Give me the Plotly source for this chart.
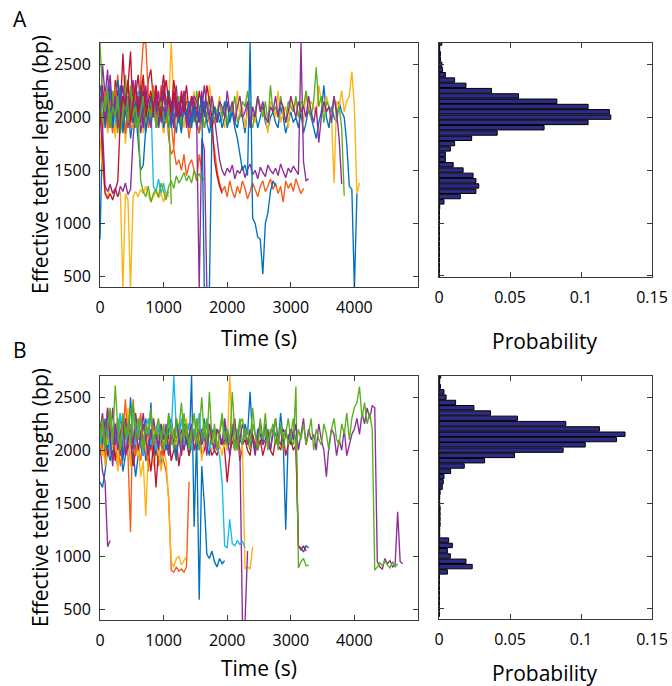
import plotly.graph_objects as go

W, H = 672, 686
DT = 40  # sampling interval of the traces (s)

# ---------------- Panel A traces: effective tether length (bp), one value every DT s from t=0 ----------------
A_BLUE_1 = [850, 1900,
            2100, 1950, 2250, 2050, 1850, 2150, 2300, 1900, 2050, 2200, 1800, 2000, 2150, 1950, 2350, 2000, 1850, 2100, 1950, 2200, 2050, 1900, 2100, 1980,
            2050, 1900, 2150, 2000, 1850, 2100, 1950, 2050, 2200, 1900, 2000, 2100, 1950, 1850, 2050, 2150, 1950, 2000, 1900, 2100, 2050, 1950, 2000, 2150, 1900,
            2000, 2100, 1950, 1900, 2050, 2000, 1850, 2100, 1950, 2000, 2050, 1900, 2000, 2100, 1950, 1880, 2000, 2050, 1950, 1900, 2100, 2000, 1850, 1950, 2050,
            1950, 2000, 1900, 2050, 1850, 1950, 2100, 2000, 1900, 1800, 1950, 2050, 2300, 2000, 1900, 2100, 2000, 1950, 2150, 2050, 2000,
            1750, 1350, 1320, 380, 1280]
A_BLUE_2 = [2300,
            2150, 1950, 2250, 2100, 1900, 2200, 2350, 2000, 2150, 1850, 2100, 2250, 1950, 2050, 1800,
            1500, 1550, 1900,
            2100, 2000, 2200, 1950, 2050, 2150, 1900, 2000, 2250, 2050, 1950, 2100, 2000, 1850, 2150, 2050, 1950, 2000,
            2100, 1900, 2050, 2000, 2150, 1950, 1850, 2000, 2100, 1950, 2050, 1900, 2000, 2150, 1950, 2050, 1900, 1800,
            1650, 1500, 1550, 1450, 2700, 1050, 1000, 870, 850, 520, 1000, 1100, 1300, 1400, 1350]
A_BLUE_3 = [2050, 2200, 1900, 2100, 2300, 1950, 2150, 2000, 2250, 1850, 2100, 2050, 2200, 1950, 2150, 2000,
            2300, 2100, 1900, 2050, 2200, 2000, 2150, 1950, 2100, 2250, 2000, 2050, 1900, 2150, 2100, 1950,
            2200, 2050, 2000, 2150, 1900, 2100, 2000, 2050, 2200, 380, 380, 380, 1900]
A_ORANGE_1 = [2200, 1900, 2100, 2300, 2000, 1850, 2150, 2400, 2050, 1950, 2200, 2100, 1900, 2250, 2000, 2150, 1950, 2350, 2050, 1900,
              2100, 2200, 1950, 2000, 2300, 1850, 2100, 2050, 1950, 1700, 2200, 2000, 1900, 2150, 2050, 1800, 2000, 2100, 1950, 1850,
              2000, 1900, 2050, 1950, 1850,
              1700, 1500, 1380,
              1300, 1350, 1250, 1400, 1300, 1240, 1350, 1280, 1400, 1330, 1230, 1300, 1380, 1320, 1250, 1350, 1400, 1300, 1350, 1420,
              1320, 1380, 1280, 1350, 1200, 1400, 1330, 1380, 1300, 1420, 1350, 1280, 1330]
A_ORANGE_2 = [2100, 2000, 2250, 1900, 2150, 2050, 2300, 1950, 2100, 2200, 1850, 2050, 2150, 1950, 2250, 2000, 2350,
              2700, 2700, 2200,
              2050, 2300, 1950, 2150, 2000, 2250, 2100,
              1800, 1650, 1700, 1550, 1600, 1500, 1650, 1450, 1550, 1600, 1500, 1400, 1650, 1500]
A_YELLOW_1 = [1700,
              1900, 2150, 1850, 2000, 2250, 1800, 2100, 1950, 2200, 1750, 2050, 2300, 1900, 2100, 2000, 2350, 1850, 2150, 1950, 2050,
              2250, 1900, 2100, 2000, 1850, 2200, 2100,
              2700,
              2150, 1950, 2100, 2050, 1900, 2200, 2000, 2100, 2250, 1950, 2050, 2150, 1900, 2000, 2300, 2100, 1950, 2050, 2200, 2000,
              1900, 2150, 2050, 2100, 1950, 2250, 2000, 2100, 1900, 2050, 2150, 2000, 1950, 2200, 2100, 2050, 2000, 1850, 2150, 2100,
              2000, 2250, 1950, 2050, 2100, 1900, 2200, 2050, 2150, 2000, 2100, 1950, 2250, 2050, 2150, 2100, 2000, 2300, 2150, 2050,
              2200, 2100, 2000,
              1380,
              2150, 2100, 2250, 2050, 2150, 2200,
              2430, 2100, 1280, 1380]
A_YELLOW_2 = [1800, 1500, 1300, 1250, 1350, 1280, 1320, 1250, 1300, 380, 1280, 1220, 380, 1250, 1300, 1250, 1320, 1280,
              1350, 1280, 1200, 1250, 1300, 1240, 1280, 1200, 1300, 1250]
A_PURPLE_1 = [2000, 2500, 2200, 2450, 1900, 2100, 2300, 1950, 2150, 2050, 2250, 1900, 2100, 2350, 2000, 2150, 1850, 2050, 2200, 1950,
              2100, 2000, 2250, 1900, 2150, 2050, 1950, 2200, 2000, 2100, 2300, 1950, 2050, 2150, 2000, 1900, 2200, 2050, 2100, 1950,
              2250, 2000, 2150, 2050, 1900, 2000,
              1800, 1600, 1500,
              1450, 1520, 1480, 1550, 1420, 1500, 1470, 1540, 1430, 1510, 1560, 1460, 1500, 1420, 1530, 1480, 1440, 1550, 1500, 1470,
              1520, 1450, 1560, 1490, 1430, 1520, 1480, 1540, 1500, 1460,
              2700, 1580, 1400, 1420]
A_PURPLE_2 = [2100, 1900, 1350,
              1300, 1370, 1280, 1330, 1250, 1350, 1300, 1380, 1270, 1320,
              1800,
              2050, 2200, 1950, 2100, 2300, 2000, 1900, 2150, 2050, 2250, 1950, 2100, 2000, 2200, 2050, 1900, 2150, 2100, 2000, 2250,
              1950, 2050, 2150, 2000,
              1950, 380, 1800, 1700, 380]
A_PURPLE_3 = [2050, 2250, 1950, 2150, 2400, 2000, 2200, 1900, 2100, 2300, 2050, 1950, 2200, 2100, 2350, 2000, 2150, 1900, 2250, 2050,
              2100, 2000, 2200, 1950, 2150, 2300, 2050, 2100, 1950, 2200, 2000, 2150, 2050, 2250, 1900, 2100, 2000, 2200, 2150, 1950,
              2050, 2300, 2100, 2000, 2200, 2050, 1950, 2150, 2100, 2000, 2250, 2050, 2150, 1950, 2100, 2200, 2000, 2050, 2150, 1900,
              2100, 2000, 2200, 2050, 2150, 2000, 1950, 2100, 2050, 2200, 2000, 2150, 2100, 1950, 2050, 2200, 2100, 2000, 2150, 2050,
              2100, 2000, 2200, 2050, 1950, 2100, 1760, 2000, 2150, 2050, 2100, 1950, 2200, 2050,
              1800, 1370]
A_GREEN_1 = [2700,
             2200, 1950, 2100, 2300, 2000, 2150, 1850, 2250, 2050, 2400, 1950, 2100, 2200, 1900, 2050, 2300, 2000, 2150, 1950, 2100,
             2250, 1900, 2050, 2150, 2000,
             2000, 2250, 2100, 1950, 2050, 2200, 1900, 2100, 2000, 2150, 2050, 1950, 2250, 2050, 2100, 1900, 2000, 2200, 2100, 1950,
             2050, 2150, 2000, 2100, 1950,
             2100, 2050, 2200, 1950, 2000, 2150, 2100, 2250, 2000, 1900, 2050, 2200, 2100, 2000, 2150, 1950, 2300, 2050, 2100, 2000,
             2200, 2050, 1950, 2150, 2100,
             2050, 2200, 2000, 2150, 2100, 2250, 2050, 2000, 2150, 2470, 2100, 2200, 1950, 2150, 2100, 2050, 2200, 2000, 2100,
             1900, 1260]
A_GREEN_2 = [2100, 1950, 2200, 2050, 1900, 2250, 2000, 2150, 1850, 2100, 2300, 1950, 2050, 2200, 1900, 2000,
             1400,
             1300, 1250, 1350, 1200, 1280, 1320, 1250, 1380, 1300, 1220, 1350, 1400, 1330, 1450, 1380, 1420, 1480, 1400, 1450, 1380,
             1500, 1430, 1470, 1400, 1430]
A_GREEN_3 = [1950, 2150, 2050, 2250, 1900, 2100, 2000, 2200, 1850, 2050, 2150, 1950, 2300, 2000, 2100, 1900, 2050, 2200,
             1950, 2100, 2000, 2250, 1900, 2050, 2150, 2000, 1950, 2100,
             1180]
A_CYAN_1 = [2150, 2250, 2050, 2300, 2100, 2200, 1950, 2250, 2150, 2050, 2300, 2100, 2200, 2000, 2150, 2250, 2050, 2200, 2100, 1950, 2150,
            1350, 1300, 1420, 1280, 1380, 1250, 1300]
A_RED_1 = [2100, 2300, 2000, 2250, 2150, 1950, 2350, 2200, 2050, 2600, 2150, 2300, 2620, 2000, 2200, 2400, 2100, 2250, 2050, 2350,
           2450, 2150, 2300, 2000, 2200, 2400, 2100, 2250, 2050, 2350, 2150, 2000, 2250, 2100, 2300, 2050, 2200, 2150, 2000, 2250,
           2100, 2050, 2300, 2150, 2000,
           1600, 1450, 1350, 1280]
A_RED_2 = [2050, 1700, 1280, 1230, 1280, 1220, 1300, 1400,
           2000, 2200, 2100, 2350, 1950, 2150, 2300, 2050, 2200, 2400, 2000, 2150, 2250, 2050, 2300, 2100, 2000, 2200, 2350, 2150,
           2050, 2250, 2100, 2000, 2200, 2050, 2150]

# ---------------- Panel B traces ----------------
B_BLUE_1 = [1700, 1650, 1800, 2000, 1900, 2100, 1950, 1850, 2050, 1800, 1950, 2100, 1900, 2000, 1750, 1950, 2050, 2150, 1900, 2000,
            2450, 1950, 2100, 2000, 1850, 2050,
            2100, 1950, 2200, 2050, 1900, 2150, 2000, 2250, 2100, 1950, 2050, 2200, 2000, 2150, 2100, 2300, 2050, 1950, 2200, 2100,
            2000, 2150, 2050, 2250, 2000, 2100,
            2150, 2000, 2200, 2100, 2050, 2250, 2150, 2550, 2100, 2000, 2200, 2150, 2050, 2250, 2100, 2000, 2200, 2150, 2050, 2350, 2100,
            1250, 2150, 2050, 2200, 2100,
            1100, 1080, 1040, 1100, 1080]
B_BLUE_2 = [2200, 2050, 2300, 2000, 2150, 1950, 2250, 2100, 2350, 1900, 2200, 2050, 2500, 2100, 2000, 2250, 2150, 1950, 2300, 2050,
            2200, 2100, 1950, 2250, 2050, 2150, 2000, 2200, 2300, 2100, 1950, 2150, 2050, 2250, 2100, 2000,
            2700, 1280, 2150, 590, 1850, 1500, 1020,
            980, 1050, 950, 900, 980, 930, 960]
B_CYAN = [2050, 2200, 2100, 2300, 1950, 2150, 2250, 2050, 2350, 2100, 2000, 2200, 2150, 2400, 2050, 2250, 2100, 1950, 2200, 2300,
          2050, 2150, 2000, 2250, 2100, 2200, 2050, 2350, 2150,
          2700,
          2200, 2100, 2300, 2050, 2150, 2250, 2000, 2200, 2100, 2350, 2050, 2150, 2250, 2000, 2100, 2200, 2050, 1950,
          1700, 1100, 1080, 1350,
          1120, 1100, 1150, 1110, 1140, 1080]
B_YELLOW_1 = [1950, 2100, 1850, 2000, 2200, 1900, 2050, 1800, 2150, 1950, 2000, 2400, 1850, 2100, 1950, 2050, 1750, 1900, 1380,
              2000, 2100, 1850, 1950, 2050, 1800, 2000, 1900,
              1500, 950, 900, 980, 1000, 920, 960, 1000]
B_YELLOW_2 = [2100, 1950, 2200, 2050, 2300, 2000, 2150, 1900, 2250, 2100, 2000, 2200, 2050, 2350, 2150, 1950, 2100, 2250, 2000, 2150,
              2050, 2300, 2100, 1950, 2200, 2050, 2150, 2000, 2250, 2100, 2050, 2200, 1950, 2150, 2300, 2050, 2100, 2000, 2200, 2150,
              1900, 2100, 2250, 2050, 2000, 2150, 2200, 2050, 1950, 2100, 2000,
              2700, 2150, 2000, 2100, 1950, 2050,
              880, 900, 880, 1090]
B_ORANGE_1 = [2000, 2150, 1900, 2250, 2050, 1950, 2200, 2100, 1850, 2000, 2300, 1950, 1230, 2480, 2100, 2000, 1900, 2150, 2050, 1800,
              2200, 1950, 2100, 1850, 2000, 1900, 1800,
              1550, 870, 850, 900, 860, 880, 850, 900, 1700]
B_ORANGE_2 = [2050, 2250, 2150, 2400, 1950, 2200, 2100, 2300, 2000, 2150, 2480, 2050, 2250, 2100, 1950, 2200, 2350, 2050, 2150, 1900,
              2100, 2250, 2000, 2150, 2050, 1950]
B_PURPLE_1 = [2200, 2350, 2050, 2400, 2100, 1850, 2250, 2000, 2150, 2300, 1950, 2100, 2200, 2050, 2250, 2000, 2150, 2350, 2100, 1950,
              2200, 2050, 2150, 2000, 2250,
              2100, 2200, 2000, 2150, 2050, 2300, 2100, 1950, 2200, 2050, 2150, 2250, 2000, 2100, 2200, 2050, 2150, 1950, 2250, 2100,
              2000, 2200, 2150, 2050, 2100,
              2200, 2050, 2150, 2300, 2000, 2100, 2250, 2150, 2050, 2200, 2100, 1950, 2150, 2250, 2050, 2100, 2200, 2000, 2150, 2300,
              2100, 2050, 2200, 2150, 2100,
              2200, 2100, 2250, 2000, 2150, 2300, 2050, 2200, 2100, 2150, 2000, 2250, 2100, 2000, 1750, 2050, 2200, 2150, 1950, 2100,
              2000, 2200, 1950, 2050, 2150,
              2200, 2300, 2150, 2350, 2250, 2400, 2300, 2420,
              2400, 950, 900, 880, 980, 930, 960, 900, 920, 1420, 950, 930]
B_PURPLE_2 = [2050, 1800, 1700, 1090, 1150]
B_PURPLE_3 = [2150, 2300, 2000, 2200, 2100, 2400, 2050, 2250, 1950, 2150, 2300, 2100, 2200, 2000, 2350, 2150, 2050, 2250, 2100, 2200,
              2000, 2300, 2150, 2050, 2200, 2100, 2250, 1950, 2150, 2050, 2300, 2100, 2200, 2000, 2150, 2250, 2050, 2100, 2300, 2000,
              2200, 2150, 2050, 2250, 2100, 2000, 2200, 2150, 2050, 2300, 2100, 1950, 2200, 2050, 2150, 2000,
              380, 380, 1050]
B_GREEN_1 = [2150, 2300, 2050, 2250, 2400, 2100, 2610, 2200, 2000, 2350, 2150, 2250, 2050, 2450, 2200, 2100, 2300, 2000, 2250, 2150,
             2400, 2050, 2200, 2300, 2100,
             2250, 2050, 2350, 2150, 2000, 2300, 2200, 2450, 2100, 2250, 2000, 2150, 2350, 2050, 2200, 2500, 2100, 2300, 2150, 2050,
             2250, 2000, 2200, 2350, 2100,
             2200, 2050, 2550, 2150, 2000, 2250, 2300, 2100, 2200, 2050, 2400, 2150, 2000, 2250, 2100, 2350, 2050, 2200, 2150, 2300,
             2000, 2250, 2100, 2200, 2050,
             2150, 2300, 2000, 2200, 2100, 2250, 2050, 2150, 2300, 2000, 2200, 2100, 2050, 2250, 2150, 2000, 2200, 2300, 2100, 2050,
             2250, 2150, 2350, 2100, 2300,
             2400, 2450, 2600, 2300, 2450, 2250, 2350,
             2200, 870, 900, 940, 910, 960, 920, 890, 950, 900, 930]
B_GREEN_2 = [2100, 2250, 2000, 2200, 2350, 2050, 2150, 2300, 2000, 2250, 2100, 2200, 2400, 2050, 2150, 2300, 2100, 2000, 2250, 2150,
             2350, 2050, 2200, 2100, 2250,
             2000, 2150, 2300, 2050, 2200, 2100, 2250, 2000, 2350, 2150, 2050, 2200, 2100, 2300, 2000, 2150, 2250, 2050, 2550, 2100,
             2200, 2000, 2150, 2300, 2050,
             2200, 2100, 2250, 2000, 2150, 2300, 2050, 2200, 2100, 2000, 2250, 2150, 2050, 2300, 2100, 2200, 2000, 2150, 2250, 2050,
             2100, 2200, 2000, 2150, 2300, 2100, 2050,
             2600, 890, 950, 980, 910, 920]
B_RED = [2100, 2000, 2200, 1950, 2050, 2150, 1900, 2100, 2000, 2250, 1950, 2050, 2100, 1850, 2000, 2150, 2050, 1950, 2100, 2000,
         1800, 2050, 1650, 2000, 2100,
         1950, 2050, 2150, 1900, 2000, 2100, 1850, 2050, 2000, 2150, 1950, 2100, 2000, 2050, 2200, 1950, 2000, 2100, 2050, 1950,
         2000, 1950, 2050, 2100, 2000,
         1700, 1950, 2100, 2000, 2150, 1900, 2050, 2100, 2000, 1950, 2150, 2050, 2000, 2100, 1950, 2050, 2150, 2000, 1950, 2100,
         2050, 2000, 2150, 1950, 2050, 2100, 2000,
         2050, 1100, 1060, 1100, 1050]

# ---------------- Histograms (probability per 50-bp bin) ----------------
HIST_A_BINS = [2700, 2650, 2600, 2550, 2500, 2450, 2400, 2350, 2300, 2250, 2200, 2150, 2100, 2050, 2000, 1950, 1900, 1850,
               1800, 1750, 1700, 1650, 1600, 1550, 1500, 1450, 1400, 1350, 1300, 1250, 1200, 1150, 1100, 1050, 1000, 950,
               900, 850, 800, 750, 700, 650, 600, 550, 500]
HIST_A_PROB = [0.002, 0.0005, 0.001, 0.001, 0.002, 0.0025, 0.0045, 0.011, 0.019, 0.037, 0.056, 0.083, 0.105, 0.120, 0.121,
               0.105, 0.074, 0.041, 0.023, 0.011, 0.008, 0.0045, 0.0045, 0.010, 0.017, 0.024, 0.026, 0.028, 0.026, 0.015,
               0.0035, 0.0005, 0.0003, 0.0003, 0.0003, 0.0003, 0.0003, 0.0003, 0.0003, 0.0003, 0.0003, 0.0003, 0.0003,
               0.0003, 0.0003]
HIST_B_BINS = [2700, 2650, 2600, 2550, 2500, 2450, 2400, 2350, 2300, 2250, 2200, 2150, 2100, 2050, 2000, 1950, 1900, 1850,
               1800, 1750, 1700, 1650, 1600, 1550, 1500, 1450, 1400, 1350, 1300, 1250, 1200, 1150, 1100, 1050, 1000, 950,
               900, 850, 800, 750, 700, 650, 600, 550, 500, 450]
HIST_B_PROB = [0.0012, 0.0005, 0.001, 0.0035, 0.005, 0.0117, 0.0246, 0.0363, 0.0553, 0.0893, 0.113, 0.131, 0.125, 0.103,
               0.0874, 0.0532, 0.0321, 0.0178, 0.0082, 0.0035, 0.003, 0.0023, 0.0008, 0.0005, 0.0005, 0.0008, 0.0008, 0.0008,
               0.0008, 0.0005, 0.0005, 0.0068, 0.0094, 0.0059, 0.008, 0.019, 0.0234, 0.0059, 0.0003, 0.0003, 0.0003, 0.0003,
               0.0003, 0.0003, 0.0003, 0.0003]

TIME_TICKS = [0, 1000, 2000, 3000, 4000]
LEN_TICKS = [500, 1000, 1500, 2000, 2500]
PROB_TICKS = [0, 0.05, 0.1, 0.15]
PROB_LABELS = ['0', '0.05', '0.1', '0.15']

# ---------------- styling ----------------
BLUE = '#0070C0'; ORANGE = '#FA5A14'; YELLOW = '#FDB20F'; PURPLE = '#8E2C98'
GREEN = '#5BAE1E'; CYAN = '#18B8F0'; RED = '#C4122F'
HIST_COLOR = '#2E2B86'
FONT = 'Open Sans'
LW = 1.35

A_SET = [(A_BLUE_1, BLUE), (A_ORANGE_1, ORANGE), (A_YELLOW_1, YELLOW), (A_PURPLE_1, PURPLE), (A_GREEN_1, GREEN),
         (A_CYAN_1, CYAN), (A_RED_1, RED), (A_BLUE_2, BLUE), (A_ORANGE_2, ORANGE), (A_YELLOW_2, YELLOW),
         (A_PURPLE_2, PURPLE), (A_GREEN_2, GREEN), (A_BLUE_3, BLUE), (A_PURPLE_3, PURPLE), (A_GREEN_3, GREEN),
         (A_RED_2, RED)]
B_SET = [(B_BLUE_1, BLUE), (B_ORANGE_1, ORANGE), (B_YELLOW_1, YELLOW), (B_PURPLE_2, PURPLE), (B_RED, RED),
         (B_BLUE_2, BLUE), (B_ORANGE_2, ORANGE), (B_YELLOW_2, YELLOW), (B_PURPLE_3, PURPLE), (B_CYAN, CYAN),
         (B_GREEN_2, GREEN), (B_PURPLE_1, PURPLE), (B_GREEN_1, GREEN)]


def px(x):
    return x / W


def py(y):
    return 1 - y / H


fig = go.Figure()
for vals, col in A_SET:
    fig.add_trace(go.Scatter(x=[i * DT for i in range(len(vals))], y=vals, mode='lines',
                             line=dict(color=col, width=LW), xaxis='x', yaxis='y', hoverinfo='skip'))
for vals, col in B_SET:
    fig.add_trace(go.Scatter(x=[i * DT for i in range(len(vals))], y=vals, mode='lines',
                             line=dict(color=col, width=LW), xaxis='x3', yaxis='y3', hoverinfo='skip'))

fig.add_trace(go.Bar(x=HIST_A_PROB, y=HIST_A_BINS, orientation='h', width=42,
                     marker=dict(color=HIST_COLOR, line=dict(color='black', width=1)), xaxis='x2', yaxis='y2',
                     hoverinfo='skip'))
fig.add_trace(go.Bar(x=HIST_B_PROB, y=HIST_B_BINS, orientation='h', width=42,
                     marker=dict(color=HIST_COLOR, line=dict(color='black', width=1)), xaxis='x4', yaxis='y4',
                     hoverinfo='skip'))

ax = dict(showline=True, linecolor='#3a3a3a', linewidth=1, mirror='ticks', ticks='inside', ticklen=5,
          tickcolor='#3a3a3a', showgrid=False, zeroline=False, automargin=False,
          tickfont=dict(family=FONT, size=16, color='black'))

fig.update_layout(
    width=W, height=H, margin=dict(l=0, r=0, t=0, b=0, pad=0), autosize=False,
    paper_bgcolor='white', plot_bgcolor='white', showlegend=False, bargap=0,
    xaxis=dict(ax, domain=[px(100), px(418)], anchor='y', range=[0, 5000], tickvals=TIME_TICKS, ticklabelstandoff=6),
    yaxis=dict(ax, domain=[py(287), py(43)], anchor='x', range=[400, 2700], tickvals=LEN_TICKS, ticklabelstandoff=5),
    xaxis2=dict(ax, domain=[px(439), px(652)], anchor='y2', range=[0, 0.15], tickvals=PROB_TICKS,
                ticktext=PROB_LABELS, ticklabelstandoff=6),
    yaxis2=dict(ax, domain=[py(277), py(43)], anchor='x2', range=[490, 2700], tickvals=LEN_TICKS, showticklabels=False),
    xaxis3=dict(ax, domain=[px(100), px(418)], anchor='y3', range=[0, 5000], tickvals=TIME_TICKS, ticklabelstandoff=6),
    yaxis3=dict(ax, domain=[py(620), py(376)], anchor='x3', range=[400, 2700], tickvals=LEN_TICKS, ticklabelstandoff=5),
    xaxis4=dict(ax, domain=[px(439), px(652)], anchor='y4', range=[0, 0.15], tickvals=PROB_TICKS,
                ticktext=PROB_LABELS, ticklabelstandoff=6),
    yaxis4=dict(ax, domain=[py(619), py(376)], anchor='x4', range=[405, 2700], tickvals=LEN_TICKS, showticklabels=False),
)


def label(text, x, y, size, angle=0):
    fig.add_annotation(text=text, x=px(x), y=py(y), xref='paper', yref='paper', showarrow=False,
                       xanchor='center', yanchor='middle', textangle=angle,
                       font=dict(family=FONT, size=size, color='black'))


label('A', 20, 19, 21)
label('B', 20, 350, 21)
label('Effective tether length (bp)', 40, 165, 21, -90)
label('Effective tether length (bp)', 40, 498, 21, -90)
label('Time (s)', 259, 338, 21)
label('Time (s)', 259, 668, 21)
label('Probability', 545, 341, 21)
label('Probability', 545, 673, 21)

fig.write_html('out.html', config={'responsive': False, 'displayModeBar': False, 'staticPlot': True},
               post_script="document.body.style.margin='0px';document.body.style.overflow='hidden';"
                           "document.documentElement.style.overflow='hidden';")
